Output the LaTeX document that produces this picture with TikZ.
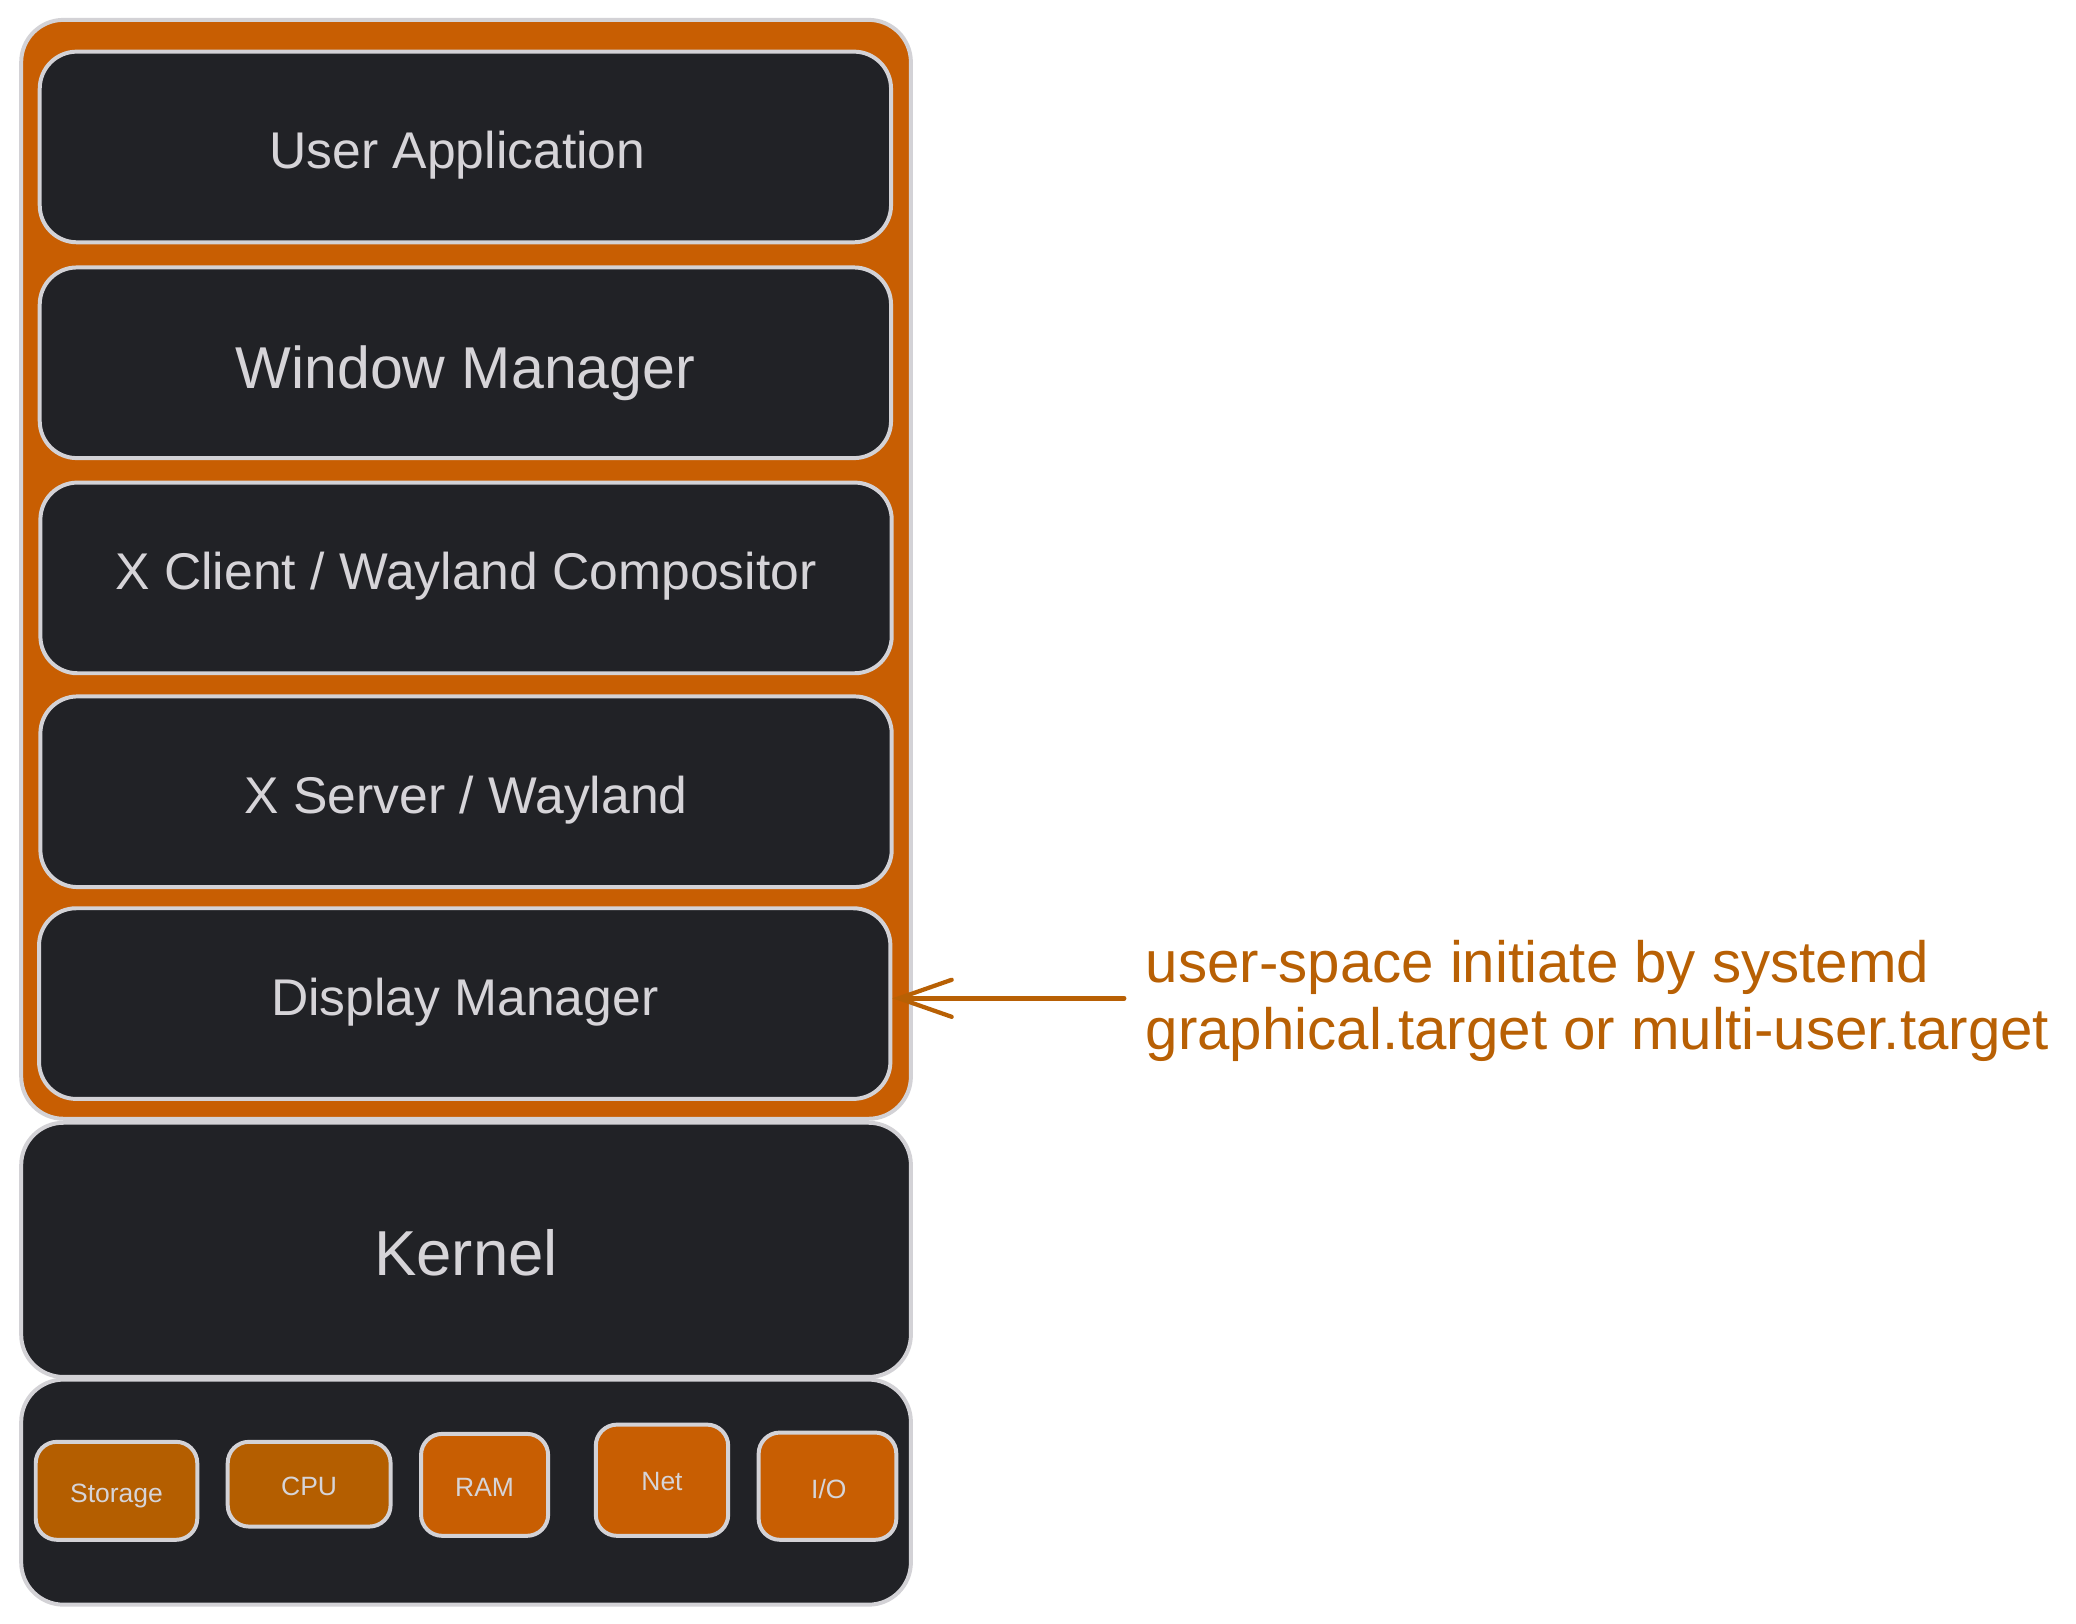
\documentclass[tikz,border=0pt]{standalone}
\usepackage{fontspec}
\setmainfont{Liberation Sans}
\usetikzlibrary{arrows.meta}
\definecolor{darkfill}{RGB}{33,34,38}
\definecolor{strokegray}{RGB}{211,210,214}
\definecolor{txtgray}{RGB}{214,212,216}
\definecolor{orfill}{RGB}{200,94,2}
\definecolor{brownfill}{RGB}{180,94,0}
\definecolor{annot}{RGB}{184,96,4}
\tikzset{
  sk/.style={draw=strokegray, line width=1.5pt, rounded corners=#1, inner sep=0pt},
  sk/.default=15pt,
  layerbox/.style={sk=14pt, fill=darkfill, minimum width=321.5pt, minimum height=72pt},
  bigbox/.style={sk=16pt, fill=darkfill, minimum width=336pt},
  hwbox/.style={sk=8pt},
  lbl/.style={text=txtgray, inner sep=0pt, font=\fontsize{19.5pt}{23pt}\selectfont},
  hwlbl/.style={text=txtgray, inner sep=0pt, font=\fontsize{10pt}{12pt}\selectfont},
  annottext/.style={text=annot, align=left, font=\fontsize{22pt}{25.5pt}\selectfont, inner sep=0pt},
  arrowline/.style={draw=annot, line width=1.8pt, line cap=round,
    -{Straight Barb[length=20pt,width=14pt,line cap=round,line width=1.6pt]}},
}
\begin{document}
\begin{tikzpicture}[x=0.5pt,y=-0.5pt]
\useasboundingbox[fill=white] (0,0) rectangle (1568,1226);
% user-space group
\node[sk=16pt, fill=orfill, minimum width=336pt, minimum height=415pt] (us) at (352,430) {};
\node[layerbox] (ua) at (351.5,111) {};
\node[layerbox] (wm) at (351.5,274) {};
\node[layerbox] (xc) at (352,436.5) {};
\node[layerbox] (xs) at (352,598) {};
\node[layerbox] (dm) at (351,758) {};
\node[lbl] (ua-t) at ([shift={(-6,6)}]ua.center) {User Application};
\node[lbl, font=\fontsize{22.3pt}{26pt}\selectfont] (wm-t) at ([shift={(0,8)}]wm.center) {Window Manager};
\node[lbl] (xc-t) at ([shift={(0,-1)}]xc.center) {X Client / Wayland Compositor};
\node[lbl] (xs-t) at ([shift={(0,6)}]xs.center) {X Server / Wayland};
\node[lbl] (dm-t) at ([shift={(0,-1)}]dm.center) {Display Manager};
% kernel
\node[bigbox, minimum height=96pt] (kernel) at (352,944) {};
\node[lbl, font=\fontsize{24pt}{28pt}\selectfont] (kernel-t) at ([shift={(0,2)}]kernel.center) {Kernel};
% hardware
\node[bigbox, minimum height=85pt] (hw) at (352,1127) {};
\node[hwbox, fill=brownfill, minimum width=61pt, minimum height=37pt] (storage) at (88,1126) {};
\node[hwbox, fill=brownfill, minimum width=61.5pt, minimum height=32pt] (cpu) at (233.5,1121) {};
\node[hwbox, fill=orfill, minimum width=48pt, minimum height=38.5pt] (ram) at (366,1121.5) {};
\node[hwbox, fill=orfill, minimum width=50pt, minimum height=42pt] (net) at (500,1118) {};
\node[hwbox, fill=orfill, minimum width=52pt, minimum height=40.5pt] (io) at (625,1122.5) {};
\node[hwlbl] (storage-t) at ([shift={(0,4)}]storage.center) {Storage};
\node[hwlbl] (cpu-t) at ([shift={(0,2)}]cpu.center) {CPU};
\node[hwlbl] (ram-t) at ([shift={(0,2)}]ram.center) {RAM};
\node[hwlbl] (net-t) at ([shift={(0,1)}]net.center) {Net};
\node[hwlbl] (io-t) at ([shift={(1,2)}]io.center) {I/O};
% annotation
\node[annottext, anchor=west] (note) at (865,756) {user-space initiate by systemd\\graphical.target or multi-user.target};
\coordinate (tail) at (849,754);
\draw[arrowline] (tail) -- (dm.east |- tail);
\end{tikzpicture}
\end{document}
